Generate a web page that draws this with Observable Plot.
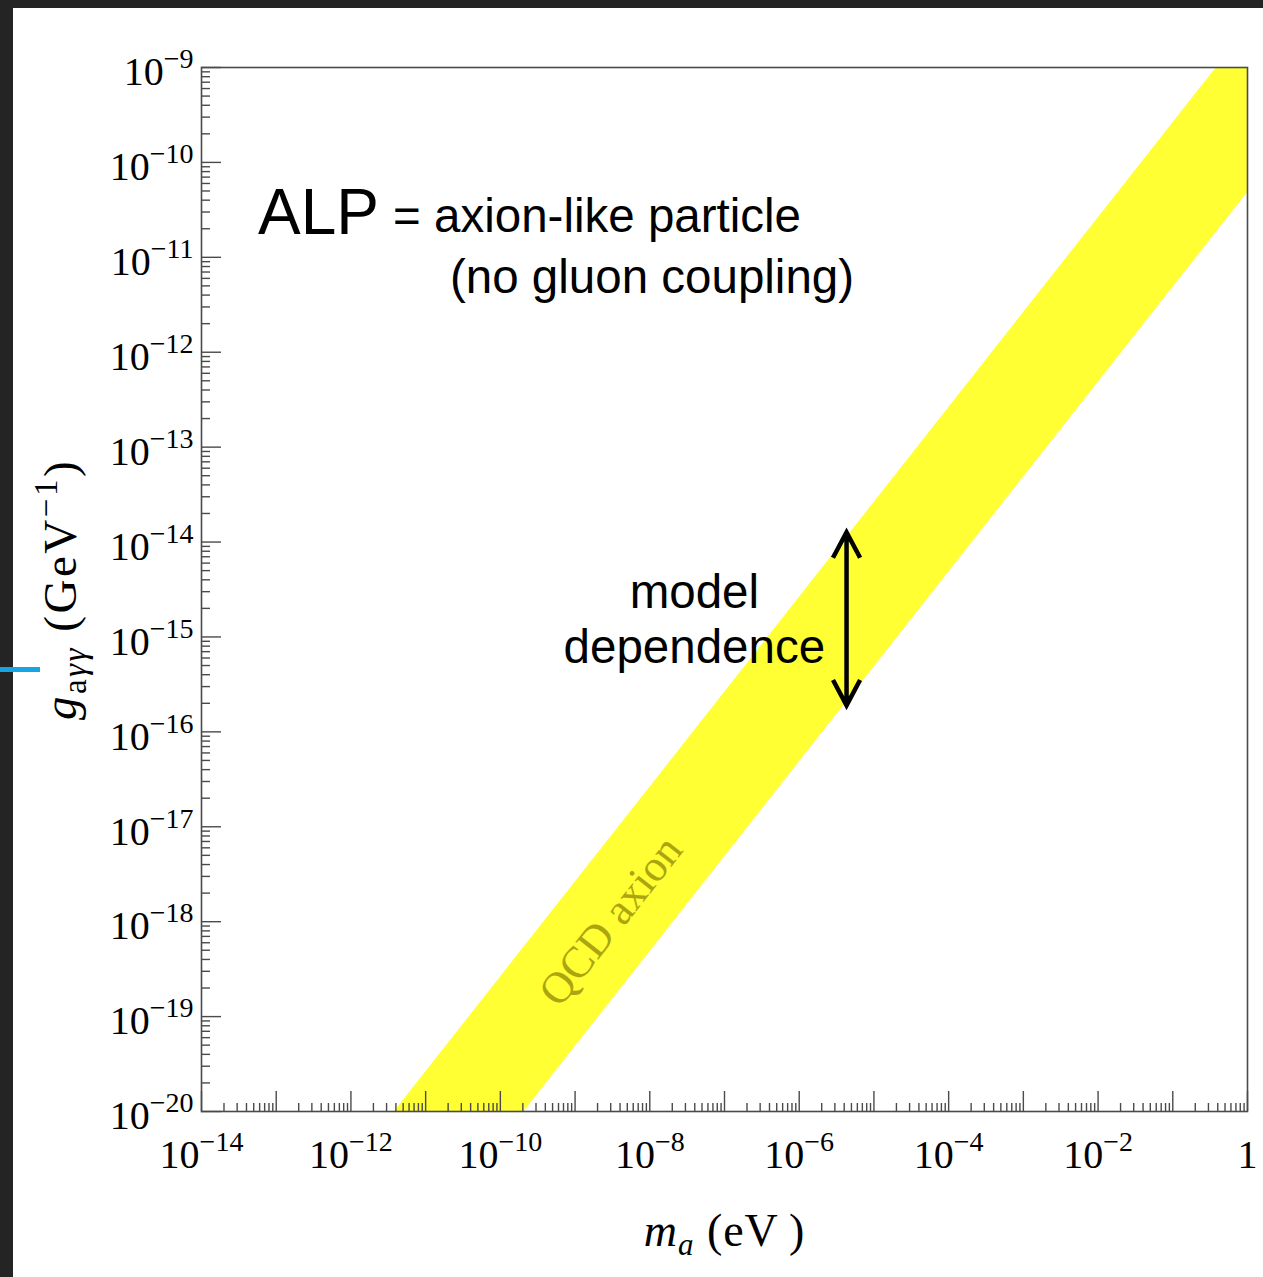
<!DOCTYPE html>
<html><head><meta charset="utf-8">
<script src="https://cdn.jsdelivr.net/npm/d3@7"></script>
<script src="https://cdn.jsdelivr.net/npm/@observablehq/plot@0.6"></script>
<style>
html,body{margin:0;padding:0;background:#242424;width:1263px;height:1277px;overflow:hidden;}
#panel{position:absolute;left:13px;top:8px;width:1250px;height:1269px;background:#fff;}
#blue{position:absolute;left:0;top:667px;width:40px;height:5px;background:#17a4e3;}
</style></head><body>
<div id="panel"></div><div id="blue"></div>
<script>
// ---- data ----
const xDecades = [1e-14,1e-13,1e-12,1e-11,1e-10,1e-9,1e-8,1e-7,1e-6,1e-5,1e-4,1e-3,1e-2,1e-1,1];
const xLabelTicks = [1e-14,1e-12,1e-10,1e-8,1e-6,1e-4,1e-2,1];
const yDecades = [1e-20,1e-19,1e-18,1e-17,1e-16,1e-15,1e-14,1e-13,1e-12,1e-11,1e-10,1e-9];
const minorMultipliers = [2,3,4,5,6,7,8,9];

// QCD axion band (m_a in eV, g in GeV^-1)
const bandMass  = [1e-12,1e-11,1e-10,1e-9,1e-8,1e-7,1e-6,1e-5,1e-4,1e-3,1e-2,1e-1,1];
const bandUpper = [2.6e-21,2.6e-20,2.6e-19,2.6e-18,2.6e-17,2.6e-16,2.6e-15,2.6e-14,2.6e-13,2.6e-12,2.6e-11,2.6e-10,2.6e-9];
const bandLower = [4.8e-23,4.8e-22,4.8e-21,4.8e-20,4.8e-19,4.8e-18,4.8e-17,4.8e-16,4.8e-15,4.8e-14,4.8e-13,4.8e-12,4.8e-11];

// model-dependence arrow
const arrowMass = [4.3e-6, 4.3e-6];
const arrowFrom = [1.55e-15, 1.55e-15];
const arrowTo   = [1.27e-14, 1.9e-16];

// annotations
const leftNotes = ["ALP", "= axion-like particle", "(no gluon coupling)"];
const leftNoteMass = [5.7e-14, 3.67e-12, 2.12e-11];
const leftNoteG = [1.74e-11, 1.85e-11, 4.2e-12];
const midNotes = ["model", "dependence"];
const midNoteMass = [3.95e-8, 3.95e-8];
const midNoteG = [2.04e-15, 5.37e-16];
const bandLabel = ["QCD axion"];
const bandLabelMass = [3.0e-9];
const bandLabelG = [1.02e-18];

// ---- derived tables ----
const band = bandMass.map((m, i) => ({m, hi: bandUpper[i], lo: bandLower[i]}));
const xMinor = xDecades.slice(0, -1).flatMap(d => minorMultipliers.map(k => k * d));
const yMinor = yDecades.slice(0, -1).flatMap(d => minorMultipliers.map(k => k * d));
const arrows = arrowMass.map((m, i) => ({m, a: arrowFrom[i], b: arrowTo[i]}));
const lnotes = leftNotes.map((t, i) => ({t, m: leftNoteMass[i], g: leftNoteG[i]}));
const mnotes = midNotes.map((t, i) => ({t, m: midNoteMass[i], g: midNoteG[i]}));
const qcd = bandLabel.map((t, i) => ({t, m: bandLabelMass[i], g: bandLabelG[i]}));

const W = 1250, H = 1269, ML = 188, MR = 16, MT = 59, MB = 166;
const PW = W - ML - MR, PH = H - MT - MB;
const tickColor = "#4a4a4a";
const expFmt = d => {
  const e = Math.round(Math.log10(d));
  return e === 0 ? "1" : "10^" + (e < 0 ? "\u2212" + (-e) : e);
};
const sans = "Helvetica, 'Liberation Sans', Arial, sans-serif";
const serif = "'Liberation Serif', 'Times New Roman', serif";

const svg = Plot.plot({
  width: W, height: H,
  marginLeft: ML, marginRight: MR, marginTop: MT, marginBottom: MB,
  style: {background: "white", fontFamily: serif, fontSize: "40px", color: "black", overflow: "visible"},
  x: {type: "log", domain: [1e-14, 1], axis: null},
  y: {type: "log", domain: [1e-20, 1e-9], axis: null},
  marks: [
    Plot.areaY(band, {x: "m", y1: "lo", y2: "hi", fill: "#ffff33", clip: true}),
    Plot.ruleY(yMinor, {y: d => d, insetRight: PW - 9, stroke: tickColor, strokeWidth: 1.4}),
    Plot.ruleY(yDecades, {y: d => d, insetRight: PW - 20, stroke: tickColor, strokeWidth: 1.4}),
    Plot.ruleX(xMinor, {x: d => d, insetTop: PH - 8, stroke: tickColor, strokeWidth: 1.4}),
    Plot.ruleX(xDecades, {x: d => d, insetTop: PH - 20, stroke: tickColor, strokeWidth: 1.4}),
    Plot.frame({stroke: tickColor, strokeWidth: 1.6}),
    Plot.axisY({ticks: yDecades, tickFormat: expFmt, tickSize: 0, tickPadding: 8, dy: 5, label: null}),
    Plot.axisX({ticks: xLabelTicks, tickFormat: expFmt, tickSize: 0, tickPadding: 28, label: null}),
    Plot.text(["__YLABEL__"], {text: d => d, frameAnchor: "left", textAnchor: "middle", rotate: -90, dx: -126, lineAnchor: "bottom", fontSize: 47}),
    Plot.text(["__XLABEL__"], {text: d => d, frameAnchor: "bottom", textAnchor: "middle", dy: 134, lineAnchor: "bottom", fontSize: 46}),
    Plot.text(qcd, {x: "m", y: "g", text: "t", rotate: -51.8, fill: "#aca50f", fontSize: 44, fontFamily: serif}),
    Plot.text(lnotes.slice(0, 1), {x: "m", y: "g", text: "t", textAnchor: "start", lineAnchor: "bottom", fontSize: 64, fontFamily: sans}),
    Plot.text(lnotes.slice(1), {x: "m", y: "g", text: "t", textAnchor: "start", lineAnchor: "bottom", fontSize: 47.5, fontFamily: sans}),
    Plot.text(mnotes, {x: "m", y: "g", text: "t", textAnchor: "middle", lineAnchor: "bottom", fontSize: 47.5, fontFamily: sans}),
    Plot.arrow(arrows, {x1: "m", y1: "a", x2: "m", y2: "b", stroke: "black", strokeWidth: 4.5, headLength: 11, headAngle: 56, strokeLinecap: "butt", strokeLinejoin: "miter", strokeMiterlimit: 10})
  ]
});

// ---- rich text (superscripts / subscripts) ----
function rich(el, parts, spacing) {
  el.textContent = "";
  if (spacing) el.setAttribute("letter-spacing", spacing);
  for (const p of parts) {
    const ts = document.createElementNS("http://www.w3.org/2000/svg", "tspan");
    ts.textContent = p.t;
    if (p.size) ts.setAttribute("font-size", p.size);
    if (p.italic) ts.setAttribute("font-style", "italic");
    if (p.dy) ts.setAttribute("dy", p.dy);
    el.appendChild(ts);
  }
}
svg.querySelectorAll("text").forEach(el => {
  const s = el.textContent;
  const m = /^10\^(.+)$/.exec(s);
  if (m) rich(el, [{t: "10"}, {t: m[1], size: 28, dy: -17}]);
  else if (s === "__XLABEL__") rich(el, [{t: "m", italic: true}, {t: "a", italic: true, size: 31, dy: 9}, {t: " (eV\u2009)", dy: -9}], 1);
  else if (s === "__YLABEL__") rich(el, [{t: "g", italic: true}, {t: "a", size: 33, dy: 10}, {t: "\u03b3\u03b3", italic: true, size: 33}, {t: " (GeV", dy: -10}, {t: "\u22121", size: 33, dy: -19}, {t: ")", dy: 19}], 2.5);
});
document.getElementById("panel").appendChild(svg);
</script>
</body></html>
